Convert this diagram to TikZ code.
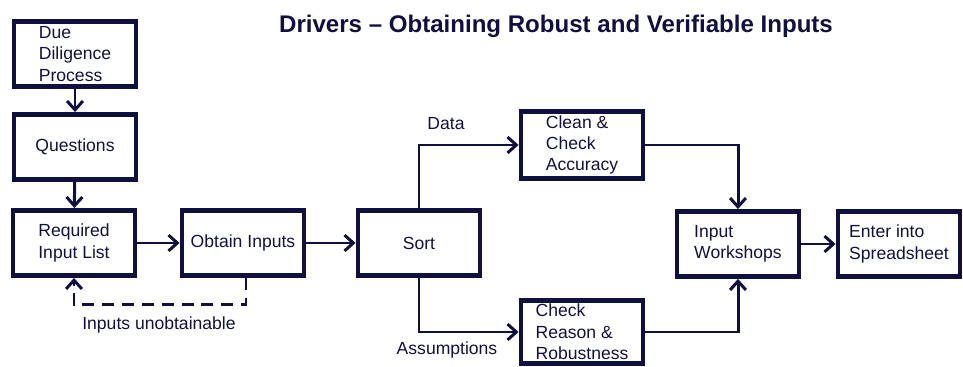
\documentclass[tikz,border=0pt]{standalone}
\usepackage{fontspec}
\setmainfont{Liberation Sans}
\usetikzlibrary{arrows.meta}
\definecolor{navy}{RGB}{16,16,64}
\tikzset{
    % Process boxes
    stepbox/.style={rectangle, draw=navy, line width=2.8pt, text=navy, align=left,
        minimum width=2.44cm, minimum height=1.3cm, inner sep=2pt,
        font=\fontsize{10}{12.2}\selectfont},
    smallbox/.style={stepbox, minimum height=1.24cm},
    % Connectors
    flow/.style={draw=navy, line width=1.7pt, -{Straight Barb[length=5pt, width=9pt, line width=1.7pt]}},
    loopback/.style={flow, dash pattern=on 6.8pt off 4.5pt},
    tag/.style={text=navy, font=\fontsize{10}{12}\selectfont}
}
\begin{document}
\begin{tikzpicture}[x=0.02cm, y=-0.02cm]
\useasboundingbox (0,0) rectangle (963,367);

% Title
\node[text=navy, font=\fontsize{13.7}{16}\bfseries] (title) at (556,26) {Drivers -- Obtaining Robust and Verifiable Inputs};

% Left column
\node[stepbox] (diligence) at (75,54) {Due\\Diligence\\Process};
\node[stepbox] (questions) at (75,147) {Questions};
\node[stepbox] (required) at (74,243) {Required\\Input List};

% Main row
\node[stepbox] (obtain) at (243,243) {Obtain Inputs};
\node[stepbox] (sort) at (419,243) {Sort};
\node[stepbox] (workshops) at (738,244) {Input\\Workshops};
\node[stepbox] (enter) at (899,244) {Enter into\\Spreadsheet};

% Branches
\node[smallbox] (clean) at (582,145) {Clean \&\\Check\\Accuracy};
\node[smallbox] (check) at (582,332) {Check\\Reason \&\\Robustness};

% Arrows
\draw[flow] (diligence) -- (questions);
\draw[flow] (questions) -- (required);
\draw[flow] (required) -- (obtain);
\draw[flow] (obtain) -- (sort);
\draw[flow] (sort.north) |- (clean.west);
\draw[flow] (sort.south) |- (check.west);
\draw[flow] (clean.east) -| (workshops.north);
\draw[flow] (check.east) -| (workshops.south);
\draw[flow] (workshops) -- (enter);

% Inputs that cannot be obtained go back to the list
\draw[loopback] ([xshift=3*0.02cm]obtain.south) -- ++(0,27) -| (required.south);

% Labels
\node[tag] (data) at (446,124) {Data};
\node[tag] (assume) at (447,350) {Assumptions};
\node[tag] (unobt) at (159,325) {Inputs unobtainable};
\end{tikzpicture}
\end{document}
